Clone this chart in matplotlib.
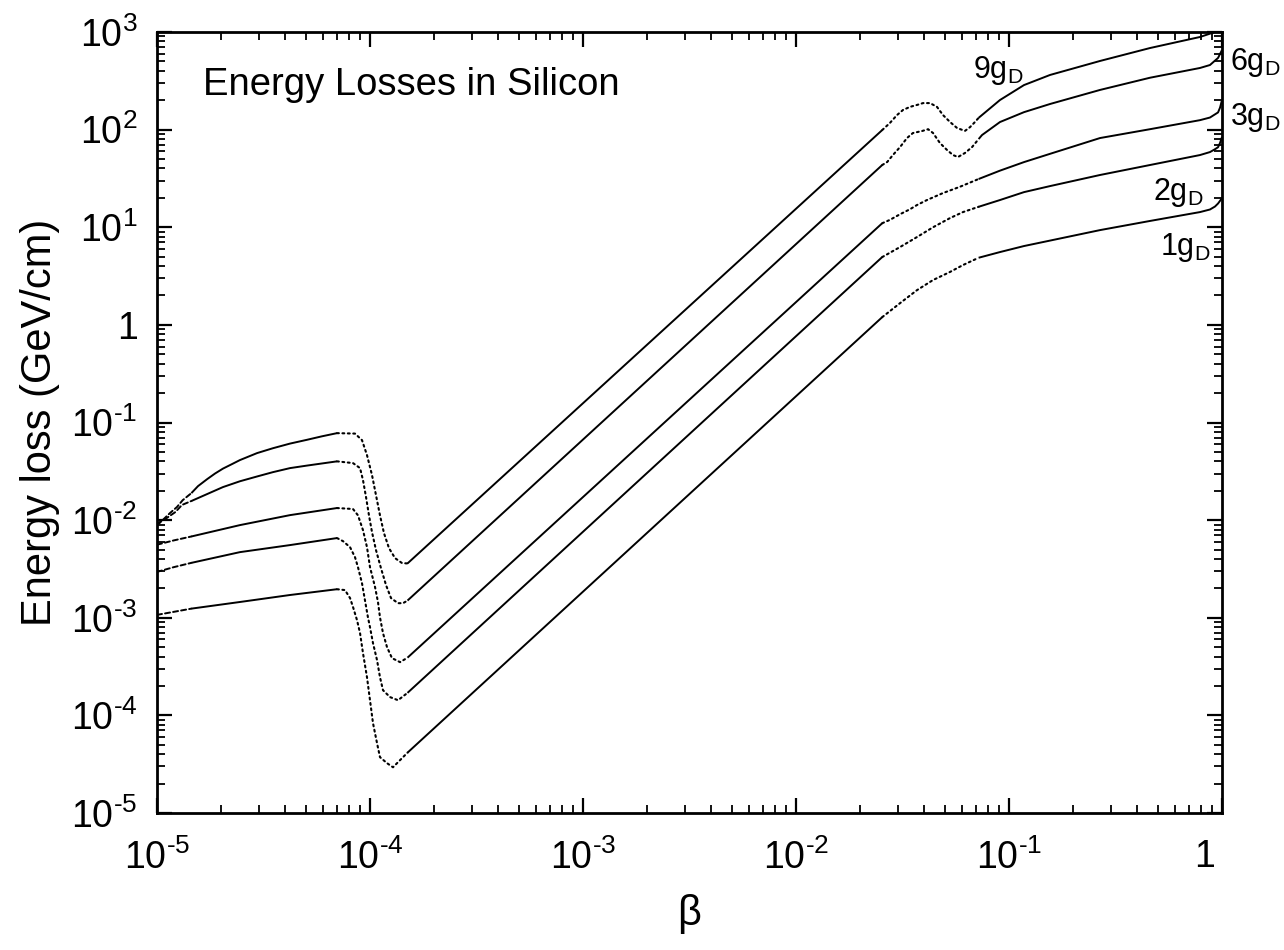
import matplotlib
matplotlib.use('Agg')
import matplotlib.pyplot as plt
import numpy as np
from matplotlib.ticker import FixedLocator, FixedFormatter, LogLocator, NullFormatter
from matplotlib.transforms import ScaledTranslation

plt.rcParams['font.family'] = ['Liberation Sans', 'DejaVu Sans']
plt.rcParams['mathtext.fontset'] = 'custom'
plt.rcParams['mathtext.rm'] = 'Liberation Sans'
plt.rcParams['mathtext.it'] = 'Liberation Sans:italic'
plt.rcParams['mathtext.bf'] = 'Liberation Sans:bold'
plt.rcParams['mathtext.default'] = 'regular'

# ---------------- data ----------------
# common beta values where the line style changes
segment_edges = [1e-5, 1.45e-5, 7e-5, 1.5e-4, 0.0254, 0.072, 1.0]
segment_styles = ['dashed', 'solid', 'dotted', 'solid', 'dotted', 'solid']

beta_9 = [1e-5, 1.15e-5, 1.24e-5, 1.32e-5, 1.45e-5,
          1.558e-5, 1.72e-5, 1.872e-5, 2.04e-5, 2.25e-5, 2.45e-5, 2.95e-5, 3.5e-5, 4.21e-5, 5.06e-5, 5.95e-5, 7e-5,
          8.5e-5, 9.17e-5, 9.68e-5, 1.022e-4, 1.067e-4, 1.114e-4, 1.163e-4, 1.228e-4, 1.311e-4, 1.414e-4, 1.5e-4,
          0.0254, 0.0276, 0.0298, 0.0318, 0.0343, 0.0370, 0.0395, 0.0426, 0.0459, 0.0490, 0.0528, 0.0570, 0.0621, 0.0656, 0.0693, 0.072,
          0.0907, 0.1176, 0.1558, 0.2675, 0.459, 0.788, 0.927, 1.0]
loss_9 = [0.0088, 0.0118, 0.0136, 0.016, 0.0189,
          0.0223, 0.0263, 0.0300, 0.0337, 0.0375, 0.0412, 0.0486, 0.0545, 0.0608, 0.0665, 0.0722, 0.0778,
          0.077, 0.066, 0.0463, 0.0289, 0.018, 0.0112, 7.36e-3, 5.16e-3, 4.08e-3, 3.63e-3, 3.6e-3,
          99, 117, 141, 159, 171, 179, 187, 187, 171, 141, 120, 104, 97, 106, 120, 132,
          201, 286, 363, 505, 685, 889, 1000, 1150]

beta_6 = [1e-5, 1.11e-5, 1.22e-5, 1.31e-5, 1.45e-5,
          1.72e-5, 2.04e-5, 2.45e-5, 2.95e-5, 3.5e-5, 4.21e-5, 5.06e-5, 7e-5,
          8.32e-5, 8.98e-5, 9.27e-5, 9.58e-5, 9.89e-5, 1.022e-4, 1.067e-4, 1.126e-4, 1.189e-4, 1.255e-4, 1.354e-4, 1.429e-4, 1.5e-4,
          0.0254, 0.0268, 0.0285, 0.0308, 0.0332, 0.0354, 0.0391, 0.0417, 0.0440, 0.0474, 0.0512, 0.0546, 0.0576, 0.0621, 0.0671, 0.072,
          0.0747, 0.0907, 0.1176, 0.1558, 0.2675, 0.459, 0.788, 0.878, 0.958, 1.0]
loss_6 = [0.0092, 0.0105, 0.0121, 0.0143, 0.0157,
          0.0185, 0.0218, 0.0250, 0.0280, 0.0310, 0.0341, 0.0362, 0.040,
          0.0384, 0.0341, 0.0257, 0.0172, 0.0112, 7.53e-3, 4.93e-3, 3.22e-3, 2.16e-3, 1.59e-3, 1.41e-3, 1.41e-3, 1.5e-3,
          43.4, 46.6, 54.9, 66.3, 82, 92.3, 96.8, 101, 92.3, 72.9, 61.8, 54.9, 52.4, 57.6, 66.3, 80,
          88, 119.6, 151, 183, 255, 340, 428, 459, 542, 654]

beta_3 = [1e-5, 1.2e-5, 1.45e-5,
          2.45e-5, 4.21e-5, 7e-5,
          8.32e-5, 8.78e-5, 9.27e-5, 9.68e-5, 1.0e-4, 1.056e-4, 1.09e-4, 1.114e-4, 1.151e-4, 1.202e-4, 1.268e-4, 1.384e-4, 1.5e-4,
          0.0254, 0.0276, 0.0308, 0.0343, 0.0370, 0.0412, 0.0490, 0.0589, 0.072,
          0.0907, 0.1176, 0.1558, 0.2675, 0.459, 0.788, 0.878, 0.958, 0.979, 1.0]
loss_3 = [5.6e-3, 6.2e-3, 6.8e-3,
          8.89e-3, 0.01125, 0.0133,
          0.013, 0.0112, 7.9e-3, 5.28e-3, 3.3e-3, 2.06e-3, 1.45e-3, 1.01e-3, 6.95e-4, 5.0e-4, 3.86e-4, 3.51e-4, 3.9e-4,
          11.0, 11.9, 13.6, 15.3, 16.9, 19.0, 22.4, 26.0, 31.2,
          38, 46.5, 56.5, 82, 101, 125, 133, 150, 168, 201]

beta_2 = [1e-5, 1.2e-5, 1.45e-5,
          2.45e-5, 4.21e-5, 7e-5,
          7.47e-5, 8.06e-5, 8.5e-5, 8.78e-5, 9.17e-5, 9.47e-5, 9.78e-5, 1.0e-4, 1.033e-4, 1.079e-4, 1.114e-4, 1.151e-4, 1.241e-4, 1.354e-4, 1.5e-4,
          0.0254, 0.0308, 0.0370, 0.0440, 0.0528, 0.0608, 0.072,
          0.0907, 0.1176, 0.1558, 0.2675, 0.459, 0.788, 0.878, 0.927, 0.958, 0.979, 1.0]
loss_2 = [2.95e-3, 3.3e-3, 3.65e-3,
          4.7e-3, 5.55e-3, 6.55e-3,
          6.09e-3, 5.28e-3, 4.18e-3, 3.3e-3, 2.26e-3, 1.51e-3, 1.01e-3, 8.01e-4, 5.49e-4, 3.68e-4, 2.46e-4, 1.81e-4, 1.54e-4, 1.43e-4, 1.7e-4,
          4.95, 6.27, 7.94, 10.0, 12.4, 14.3, 16.2,
          19.0, 22.9, 26.4, 34.3, 43.4, 54.9, 58.9, 63, 66, 73, 84]

beta_1 = [1e-5, 1.2e-5, 1.45e-5,
          2.45e-5, 4.21e-5, 7e-5,
          7.63e-5, 8.06e-5, 8.32e-5, 8.69e-5, 8.98e-5, 9.27e-5, 9.68e-5, 1.0e-4, 1.033e-4, 1.079e-4, 1.114e-4, 1.202e-4, 1.282e-4, 1.384e-4, 1.5e-4,
          0.0254, 0.0308, 0.0370, 0.0440, 0.0528, 0.0608, 0.072,
          0.0907, 0.1176, 0.1558, 0.2675, 0.459, 0.788, 0.878, 0.927, 0.958, 0.985, 1.0]
loss_1 = [1.07e-3, 1.15e-3, 1.24e-3,
          1.45e-3, 1.71e-3, 1.96e-3,
          1.92e-3, 1.59e-3, 1.29e-3, 9.45e-4, 6.95e-4, 4.34e-4, 2.46e-4, 1.43e-4, 8.32e-5, 5.19e-5, 3.73e-5, 3.24e-5, 2.94e-5, 3.48e-5, 4.15e-5,
          1.2, 1.67, 2.27, 2.88, 3.48, 4.10, 4.87,
          5.57, 6.42, 7.3, 9.35, 11.6, 14.3, 15.2, 16.3, 17.5, 19.0, 20.0]

curve_labels = ['$9g_D$', '$6g_D$', '$3g_D$', '$2g_D$', '$1g_D$']
label_beta = [0.0678, 1.09, 1.09, 0.474, 0.512]
label_loss = [338, 408, 111, 19.0, 5.19]

x_ticks = [1e-5, 1e-4, 1e-3, 1e-2, 1e-1, 1]
x_ticklabels = ['$10^{\u20105}$', '$10^{\u20104}$', '$10^{\u20103}$', '$10^{\u20102}$', '$10^{\u20101}$', '1']
y_ticks = [1e-5, 1e-4, 1e-3, 1e-2, 1e-1, 1, 10, 100, 1000]
y_ticklabels = ['$10^{\u20105}$', '$10^{\u20104}$', '$10^{\u20103}$', '$10^{\u20102}$', '$10^{\u20101}$', '1',
                '$10^{1}$', '$10^{2}$', '$10^{3}$']

title_text = 'Energy Losses in Silicon'
x_label = 'β'
y_label = 'Energy loss (GeV/cm)'

# ---------------- drawing ----------------
fig = plt.figure(figsize=(12.84, 9.5), dpi=100)
ax = fig.add_axes([157 / 1284, 1 - 813 / 950, (1222 - 157) / 1284, (813 - 32) / 950])
ax.set_xscale('log')
ax.set_yscale('log')
ax.set_xlim(1e-5, 1)
ax.set_ylim(1e-5, 1e3)

style_map = {
    'solid': dict(linestyle='-', linewidth=1.4),
    'dashed': dict(linestyle=(0, (2.6, 1.6)), linewidth=1.4),
    'dotted': dict(linestyle=(0, (0.9, 1.7)), linewidth=1.5),
}

curves = [(beta_9, loss_9), (beta_6, loss_6), (beta_3, loss_3), (beta_2, loss_2), (beta_1, loss_1)]
for b, e in curves:
    b = np.asarray(b, dtype=float)
    e = np.asarray(e, dtype=float)
    for i, st in enumerate(segment_styles):
        lo, hi = segment_edges[i], segment_edges[i + 1]
        m = (b >= lo * (1 - 1e-9)) & (b <= hi * (1 + 1e-9))
        ax.plot(b[m], e[m], color='black', solid_capstyle='butt',
                dash_capstyle='round', solid_joinstyle='round', **style_map[st])

for txt, xb, yl in zip(curve_labels, label_beta, label_loss):
    ax.text(xb, yl, txt, fontsize=22, ha='left', va='baseline', clip_on=False)

ax.text(0.0432, 0.919, title_text, transform=ax.transAxes, fontsize=27.5, va='baseline')

ax.xaxis.set_major_locator(FixedLocator(x_ticks))
ax.xaxis.set_major_formatter(FixedFormatter(x_ticklabels))
ax.yaxis.set_major_locator(FixedLocator(y_ticks))
ax.yaxis.set_major_formatter(FixedFormatter(y_ticklabels))
ax.xaxis.set_minor_locator(LogLocator(base=10, subs=np.arange(2, 10), numticks=20))
ax.yaxis.set_minor_locator(LogLocator(base=10, subs=np.arange(2, 10), numticks=20))
ax.xaxis.set_minor_formatter(NullFormatter())
ax.yaxis.set_minor_formatter(NullFormatter())

ax.tick_params(which='major', direction='in', length=11, width=1.6,
               top=True, right=True, labelsize=27)
ax.tick_params(axis='x', which='major', pad=19)
ax.tick_params(axis='y', which='major', pad=14)
ax.tick_params(which='minor', direction='in', length=6, width=1.3,
               top=True, right=True)
for sp in ax.spines.values():
    sp.set_linewidth(2.0)

ax.set_xlabel(x_label, fontsize=30, labelpad=12)
ax.set_ylabel(y_label, fontsize=30, labelpad=8)

# the "1" label on the x axis sits a little left of its tick in the original
fig.canvas.draw()
lab = ax.xaxis.get_major_ticks()[-1].label1
lab.set_transform(lab.get_transform() + ScaledTranslation(-17 / 100, 0, fig.dpi_scale_trans))

fig.savefig('out.png', dpi=100)
